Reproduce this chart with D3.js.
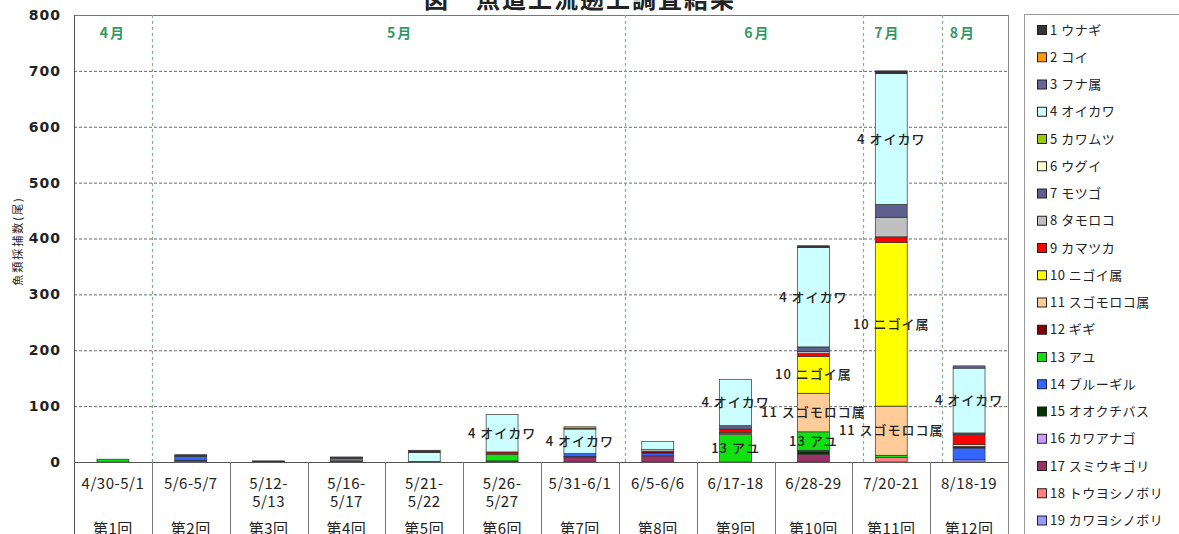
<!DOCTYPE html>
<html>
<head>
<meta charset="utf-8">
<script src="https://cdn.jsdelivr.net/npm/d3@7"></script>
<style>
  body { margin: 0; background: #fff; }
  svg { display: block; }
  text { font-family: "Noto Sans CJK JP", "Noto Sans", sans-serif; fill: #222; }
</style>
</head>
<body>
<svg id="chart" width="1179" height="534"></svg>
<script>
// Survey rounds and their dates
const rounds = ["第1回","第2回","第3回","第4回","第5回","第6回","第7回","第8回","第9回","第10回","第11回","第12回"];
const periods = ["4/30-5/1","5/6-5/7","5/12-\n5/13","5/16-\n5/17","5/21-\n5/22","5/26-\n5/27",
                 "5/31-6/1","6/5-6/6","6/17-18","6/28-29","7/20-21","8/18-19"];

// Species, numbered 1..19
const species = ["ウナギ","コイ","フナ属","オイカワ","カワムツ","ウグイ","モツゴ","タモロコ","カマツカ",
                 "ニゴイ属","スゴモロコ属","ギギ","アユ","ブルーギル","オオクチバス","カワアナゴ",
                 "スミウキゴリ","トウヨシノボリ","カワヨシノボリ"];
const speciesColors = ["#333333","#FF9900","#666699","#CCFFFF","#99CC00","#FFFFCC","#5F5F8F","#C0C0C0","#FF0000",
                       "#FFFF00","#FFCC99","#800000","#11E011","#3366FF","#003300","#CC99FF",
                       "#993366","#FF8080","#9999FF"];

// Fish counts: one row per species, one column per survey round
const counts = [
  /* 1 ウナギ */        [0, 2, 2, 1, 4, 0, 0, 0, 0,   3,   5,   0],
  /* 2 コイ */          [0, 0, 0, 0, 0, 0, 3, 0, 0,   0,   0,   0],
  /* 3 フナ属 */        [0, 0, 0, 2, 0, 0, 1, 0, 0,   0,   0,   4],
  /* 4 オイカワ */      [0, 0, 0, 2,16,67,44,15,83, 178, 234, 116],
  /* 5 カワムツ */      [0, 0, 0, 0, 0, 0, 0, 0, 0,   0,   0,   0],
  /* 6 ウグイ */        [0, 0, 0, 0, 0, 0, 0, 0, 0,   0,   0,   0],
  /* 7 モツゴ */        [0, 1, 0, 0, 0, 0, 0, 0, 6,   8,  23,   3],
  /* 8 タモロコ */      [0, 0, 0, 2, 0, 0, 0, 3, 0,   4,  35,   0],
  /* 9 カマツカ */      [0, 0, 0, 0, 0, 4, 0, 0, 6,   5,  10,  18],
  /* 10 ニゴイ属 */     [0, 0, 0, 0, 0, 0, 0, 0, 2,  66, 293,   3],
  /* 11 スゴモロコ属 */ [0, 0, 0, 0, 0, 0, 0, 0, 2,  69,  88,   0],
  /* 12 ギギ */         [0, 0, 0, 0, 0, 0, 0, 3, 0,   0,   0,   3],
  /* 13 アユ */         [5, 0, 0, 0, 0,12, 0, 0,49,  33,   4,   0],
  /* 14 ブルーギル */   [0, 7, 0, 0, 0, 2, 5, 5, 0,   2,   0,  21],
  /* 15 オオクチバス */ [0, 0, 0, 0, 0, 0, 0, 0, 0,   5,   0,   0],
  /* 16 カワアナゴ */   [0, 1, 0, 0, 0, 0, 1, 0, 0,   0,   0,   0],
  /* 17 スミウキゴリ */ [0, 0, 0, 2, 0, 0, 9,11, 0,  14,   0,   0],
  /* 18 トウヨシノボリ */[0, 2, 0, 0, 1, 0, 0, 0, 0,   0,   8,   0],
  /* 19 カワヨシノボリ */[0, 0, 0, 0, 0, 0, 0, 0, 0,   0,   0,   4]
];

// Month bands along the survey axis (in survey-slot units)
const months = ["4月","5月","6月","7月","8月"];
const monthBreaks = [1, 7.08, 10.14, 11.15];
const monthLabelAt = [0.5, 4.19, 8.78, 10.45, 11.42];

const yTicks = [0,100,200,300,400,500,600,700,800];
// Species whose segments carry a name label when large enough
const labelledSpecies = [4, 10, 11, 13];
const labelMin = 30;

const svg = d3.select("#chart");
const plot = { left: 74, right: 1008, top: 15, bottom: 462 };

const x = d3.scaleBand().domain(d3.range(rounds.length)).range([plot.left, plot.right]).padding(0);
const slot = d3.scaleLinear().domain([0, rounds.length]).range([plot.left, plot.right]);
const y = d3.scaleLinear().domain([0, 800]).range([plot.bottom, plot.top]);
const barW = x.bandwidth() * 0.41;

// Title (partly above the frame)
svg.append("text")
  .attr("x", 580).attr("y", 8)
  .attr("text-anchor", "middle")
  .style("font-size", "24px").style("font-weight", "bold").style("letter-spacing", "2px")
  .text("図　魚道上流遡上調査結果");

// Horizontal dashed gridlines
svg.append("g").selectAll("line")
  .data(yTicks.filter(d => d > 0 && d < 800))
  .join("line")
  .attr("x1", plot.left).attr("x2", plot.right)
  .attr("y1", d => y(d) + 0.5).attr("y2", d => y(d) + 0.5)
  .attr("stroke", "#444").attr("stroke-width", 0.8)
  .attr("stroke-dasharray", "3,2");

// Plot frame: top and right
svg.append("line").attr("x1", plot.left).attr("x2", plot.right)
  .attr("y1", plot.top + 0.5).attr("y2", plot.top + 0.5).attr("stroke", "#777");
svg.append("line").attr("x1", plot.right + 0.5).attr("x2", plot.right + 0.5)
  .attr("y1", plot.top).attr("y2", 534).attr("stroke", "#888");

// Month dividers and labels
svg.append("g").selectAll("line")
  .data(monthBreaks)
  .join("line")
  .attr("x1", d => Math.round(slot(d)) + 0.5).attr("x2", d => Math.round(slot(d)) + 0.5)
  .attr("y1", plot.top).attr("y2", plot.bottom)
  .attr("stroke", "#6fb98a").attr("stroke-width", 1.2)
  .attr("stroke-dasharray", "3,3");
svg.append("g").selectAll("text")
  .data(months)
  .join("text")
  .attr("x", (d, i) => slot(monthLabelAt[i]))
  .attr("y", 38)
  .attr("text-anchor", "middle")
  .style("font-size", "14px").style("font-weight", "bold").style("letter-spacing", "2px")
  .style("fill", "#339966")
  .text(d => d);

// Stacked bars: species 19 at the bottom, species 1 on top
const table = rounds.map((r, j) => {
  const row = { i: j };
  species.forEach((s, k) => { row[k] = counts[k][j]; });
  return row;
});
const keys = d3.range(species.length).reverse();
const stacked = d3.stack().keys(keys)(table);

const segs = [];
stacked.forEach(layer => {
  layer.forEach((d, j) => {
    const v = d[1] - d[0];
    if (v > 0) segs.push({ k: layer.key, j, y0: d[0], y1: d[1], v });
  });
});

svg.append("g").selectAll("rect")
  .data(segs)
  .join("rect")
  .attr("x", d => x(d.j) + (x.bandwidth() - barW) / 2)
  .attr("width", barW)
  .attr("y", d => y(d.y1))
  .attr("height", d => y(d.y0) - y(d.y1))
  .attr("fill", d => speciesColors[d.k])
  .attr("stroke", "#333").attr("stroke-width", 0.7);

// Segment labels
svg.append("g").selectAll("text")
  .data(segs.filter(d => labelledSpecies.includes(d.k + 1) && d.v >= labelMin))
  .join("text")
  .attr("x", d => x(d.j) + x.bandwidth() / 2)
  .attr("y", d => (y(d.y0) + y(d.y1)) / 2)
  .attr("dy", "0.35em")
  .attr("text-anchor", "middle")
  .style("font-size", "13px").style("letter-spacing", "1px").style("font-weight", "500")
  .style("fill", "#222")
  .text(d => `${d.k + 1} ${species[d.k]}`);

// Y axis
const yAxis = svg.append("g")
  .attr("transform", `translate(${plot.left},0)`)
  .call(d3.axisLeft(y).tickValues(yTicks).tickSize(0).tickPadding(13).tickFormat(d3.format("d")));
yAxis.select(".domain").remove();
yAxis.selectAll("text")
  .style("font-family", "'DejaVu Sans', sans-serif")
  .style("font-size", "14px").style("font-weight", "bold")
  .style("letter-spacing", "1px").style("fill", "#222");
svg.append("line").attr("x1", plot.left + 0.5).attr("x2", plot.left + 0.5)
  .attr("y1", plot.top).attr("y2", 534).attr("stroke", "#555");

// Y axis title
svg.append("text")
  .attr("transform", `translate(22,${241}) rotate(-90)`)
  .attr("text-anchor", "middle")
  .style("font-size", "11px").style("letter-spacing", "2px")
  .text("魚類採捕数(尾)");

// Baseline
svg.append("line").attr("x1", plot.left).attr("x2", plot.right)
  .attr("y1", plot.bottom + 0.5).attr("y2", plot.bottom + 0.5).attr("stroke", "#555");

// Category dividers under the axis
svg.append("g").selectAll("line")
  .data(d3.range(1, rounds.length))
  .join("line")
  .attr("x1", d => Math.round(slot(d)) + 0.5).attr("x2", d => Math.round(slot(d)) + 0.5)
  .attr("y1", plot.bottom).attr("y2", 534)
  .attr("stroke", "#777");

// Category labels: period and round
const cat = svg.append("g").selectAll("g")
  .data(rounds.map((r, j) => ({ r, p: periods[j], j })))
  .join("g")
  .attr("transform", d => `translate(${x(d.j) + x.bandwidth() / 2},0)`);
cat.each(function (d) {
  const g = d3.select(this);
  d.p.split("\n").forEach((line, li) => {
    g.append("text")
      .attr("y", 489 + li * 18)
      .attr("text-anchor", "middle")
      .style("font-size", "15px").style("letter-spacing", "0.5px")
      .text(line);
  });
  g.append("text")
    .attr("y", 534)
    .attr("text-anchor", "middle")
    .style("font-size", "15px").style("letter-spacing", "0.5px")
    .text(d.r);
});

// Legend
svg.append("rect")
  .attr("x", 1024.5).attr("y", 14.5).attr("width", 200).attr("height", 560)
  .attr("fill", "#fff").attr("stroke", "#999");
const legend = svg.append("g").selectAll("g")
  .data(species.map((s, k) => ({ s, k })))
  .join("g")
  .attr("transform", d => `translate(1037,${30 + d.k * 27.25})`);
legend.append("rect")
  .attr("x", 0.5).attr("y", -4.5).attr("width", 9).attr("height", 9)
  .attr("fill", d => speciesColors[d.k])
  .attr("stroke", "#222").attr("stroke-width", 1);
legend.append("text")
  .attr("x", 13).attr("dy", "0.36em")
  .style("font-size", "13px").style("letter-spacing", "0.5px")
  .text(d => `${d.k + 1} ${d.s}`);
</script>
</body>
</html>
